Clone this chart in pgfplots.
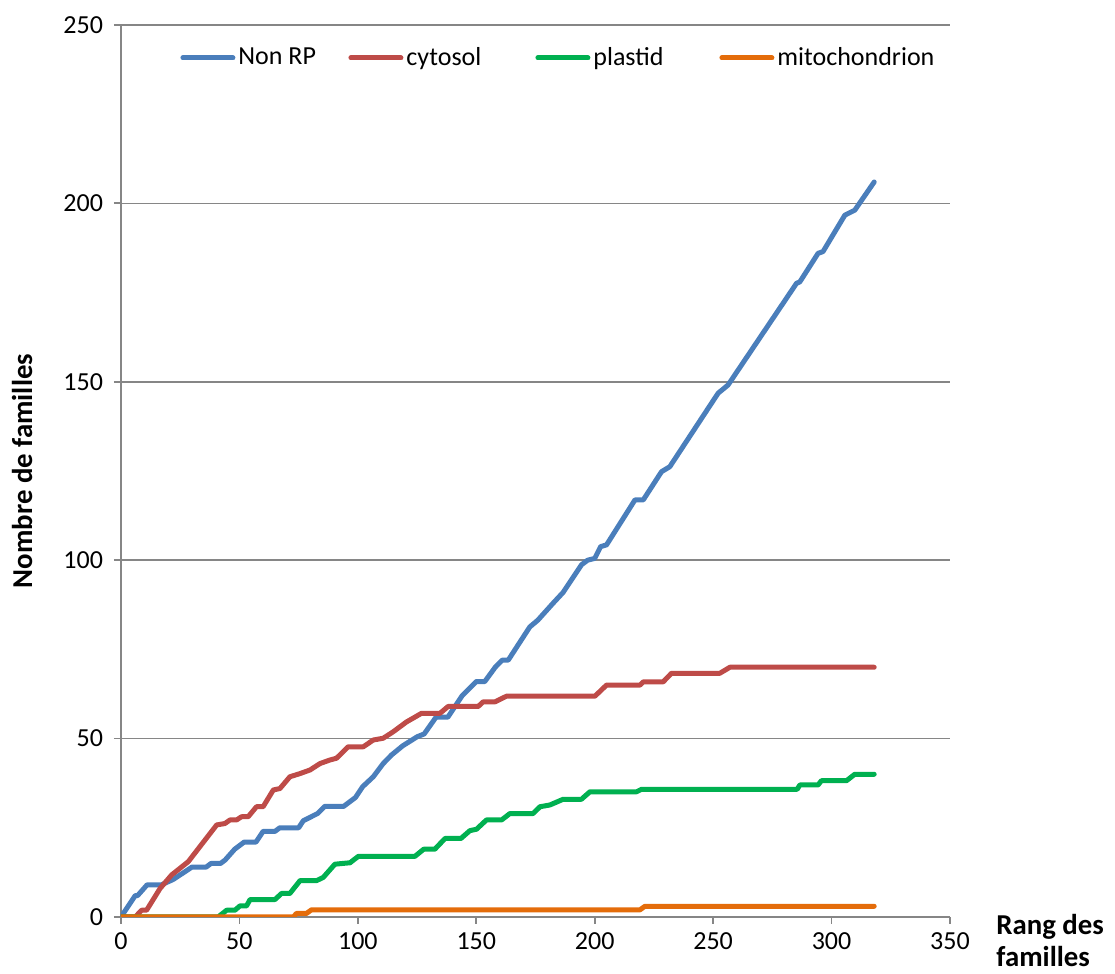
\documentclass[border=0pt]{standalone}
\usepackage{fontspec}
\setmainfont{Carlito}
\usepackage{pgfplots}
\pgfplotsset{compat=1.18}
\definecolor{cblue}{HTML}{4A7EBB}
\definecolor{cred}{HTML}{BE4B48}
\definecolor{cgreen}{HTML}{00B050}
\definecolor{corange}{HTML}{E46C0A}
\definecolor{cgrid}{HTML}{868686}
\begin{document}
\begin{tikzpicture}
\path[use as bounding box] (-60.5pt,-28.5pt) rectangle (497pt,458.5pt);
\begin{axis}[
  at={(0,0)}, anchor=south west,
  scale only axis, width=414.5pt, height=446pt,
  xmin=0, xmax=350, ymin=0, ymax=250,
  xtick={0,50,...,350}, ytick={0,50,...,250},
  axis lines=left,
  axis line style={-, draw=cgrid, line width=0.9pt},
  tick align=outside, major tick length=3.5pt,
  tick style={draw=cgrid, line width=0.9pt},
  ymajorgrids, grid style={draw=cgrid, line width=0.8pt},
  /pgf/number format/assume math mode=true,
  tick label style={font=\fontsize{13}{15}\selectfont},
  yticklabel style={xshift=-2pt},
  xticklabel style={yshift=-1pt},
  ylabel={Nombre de familles},
  ylabel style={at={(axis description cs:-0.1194,0.5)}, anchor=center, font=\fontsize{14.4}{17}\selectfont\bfseries},
  xlabel={Rang des\\familles},
  xlabel style={at={(axis description cs:1.0555,0)}, anchor=north west, inner sep=0pt, align=left, font=\fontsize{14.4}{16}\selectfont\bfseries, yshift=1.5pt},
  legend columns=4,
  legend style={at={(axis description cs:0.0712,0.963)}, anchor=west, draw=none, fill=none, inner sep=0pt,
    font=\fontsize{13}{15}\selectfont,
    nodes={inner sep=0pt},
    /tikz/every odd column/.style={column sep=1.5pt},
    /tikz/every even column/.style={column sep=0pt}},
  legend image code/.code={\draw[#1, line width=2.5pt, line cap=round] (1.25pt,0pt) -- (26.25pt,0pt);},
  every axis plot/.append style={line width=2.5pt, line join=round, line cap=round},
]
\addplot[cblue] coordinates {
(0,0) (6,6) (7,6) (11,9) (17,9) (22,10.5) (30,14) (36,14) (38,15) (42,15) (44,16)
(48,19) (52,21) (57,21) (60,24) (65,24) (67,25) (75,25) (77,27) (80,28) (83,29)
(86,31) (94,31) (99,33.5) (102,36.5) (106.5,39.3) (110.7,43) (114.2,45.4) (119,48)
(125,50.5) (128,51.3) (133,56) (138,56) (144,62) (150,66) (153.6,66) (158,70)
(161,72) (163.5,72) (172.6,81.3) (176,83.2) (182.5,88) (186.7,91) (194.4,98.7)
(197,100) (200,100.5) (202.5,103.8) (205,104.3) (217,116.9) (220.5,116.9)
(228.2,124.8) (231.7,126.2) (252.1,146.8) (256.3,149.1) (285.2,177.6) (286.6,178)
(294.3,186) (296.4,186.5) (305.6,196.7) (309.8,198.1) (318,206)
};
\addlegendentry{\makebox[55pt][l]{Non RP}}
\addplot[cred] coordinates {
(0,0) (6,0) (8.7,1.9) (10.8,1.9) (16.5,8) (21.4,11.8) (28.4,15.5) (35.5,21.6)
(40.4,25.8) (43.9,26.2) (46,27.2) (48.8,27.2) (50.9,28.1) (53.7,28.1) (57.2,30.9)
(60,30.9) (64.3,35.6) (67.1,36) (71.3,39.3) (75.6,40.2) (79.8,41.2) (84,43)
(88.2,44) (91,44.5) (95.9,47.7) (102.3,47.7) (106.5,49.6) (110.7,50.1) (114.9,51.9)
(120.6,54.7) (123,55.6) (126.9,57.1) (134.7,57.1) (138.1,59) (150.8,59) (152.9,60.3)
(157.9,60.3) (162.8,61.9) (200.1,61.9) (205,65) (219.1,65) (220.5,65.9) (228.9,65.9)
(232.4,68.3) (252.8,68.3) (257.1,70) (318,70)
};
\addlegendentry{\makebox[64.5pt][l]{cytosol}}
\addplot[cgreen] coordinates {
(0,0) (41,0) (44.6,1.9) (48.1,1.9) (50.2,3.1) (53,3.1) (54.5,4.9) (65,4.9)
(67.8,6.6) (71.3,6.6) (75.6,10.2) (82.6,10.2) (85.4,11.1) (90.3,14.8) (96.7,15.2)
(100.2,17) (124.1,17) (127.8,19) (132.5,19) (136.8,22) (143.5,22) (147.3,24.2)
(150.1,24.6) (154.3,27.2) (160.7,27.2) (164.2,29) (174,29) (176.9,30.9) (181.1,31.4)
(186.7,33) (194.4,33) (198,35.1) (217.7,35.1) (219.8,35.8) (285.5,35.8) (286.6,37)
(294.3,37) (295.7,38.2) (306.3,38.2) (309.8,40) (318,40)
};
\addlegendentry{\makebox[63pt][l]{plastid}}
\addplot[corange] coordinates {
(0,0) (72.7,0) (74.1,1) (78.3,1) (80.4,2) (219.1,2) (221.2,3) (318,3)
};
\addlegendentry{mitochondrion}
\end{axis}
\end{tikzpicture}
\end{document}
